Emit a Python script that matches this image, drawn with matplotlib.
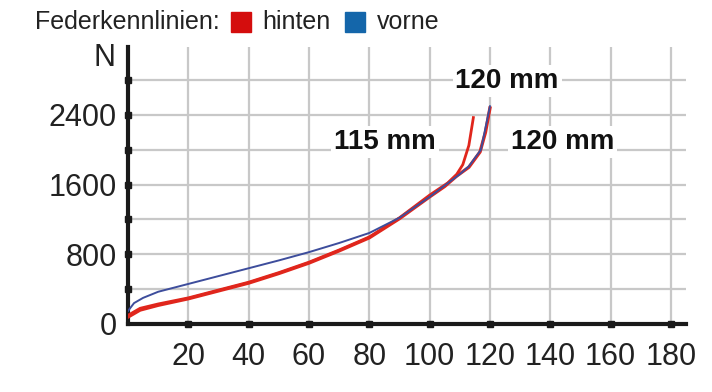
import matplotlib
matplotlib.use('Agg')
import matplotlib.pyplot as plt
from matplotlib.patches import Rectangle

plt.rcParams['font.family'] = ['Liberation Sans', 'DejaVu Sans']

# Federkennlinien (Weg in mm, Kraft in N)
x_vorne = [0, 2, 5, 10, 20, 30, 40, 50, 60, 70, 80, 90, 100, 105, 110, 113, 117, 120]
n_vorne = [150, 240, 300, 370, 460, 550, 640, 730, 825, 930, 1045, 1220, 1460, 1590, 1720, 1810, 2000, 2500]

x_hinten_115 = [0, 4, 10, 20, 30, 40, 50, 60, 70, 80, 90, 100, 103, 106, 109, 111, 113, 114.5]
n_hinten_115 = [100, 180, 230, 300, 390, 480, 590, 710, 850, 1000, 1220, 1480, 1550, 1620, 1720, 1830, 2050, 2370]

x_hinten_120 = [0, 4, 10, 20, 30, 40, 50, 60, 70, 80, 90, 100, 105, 109, 113, 116.7, 118.5, 120]
n_hinten_120 = [80, 160, 215, 290, 380, 470, 580, 700, 840, 990, 1210, 1460, 1580, 1700, 1800, 1975, 2200, 2480]

x_ticks = [20, 40, 60, 80, 100, 120, 140, 160, 180]
y_grid = [400, 800, 1200, 1600, 2000, 2400, 2800]
y_labels = [0, 800, 1600, 2400]

red = '#e0261c'
blue = '#3d4d9c'
axis_col = '#1a1a1a'
text_col = '#222222'

fig = plt.figure(figsize=(7.12, 3.92), dpi=100)
ax = fig.add_axes([0.1798, 0.1735, 0.7837, 0.7065])
ax.set_xlim(0, 185)
ax.set_ylim(0, 3180)

for s in ['top', 'right']:
    ax.spines[s].set_visible(False)
for s in ['left', 'bottom']:
    ax.spines[s].set_linewidth(3)
    ax.spines[s].set_color(axis_col)

ax.set_xticks(x_ticks)
ax.set_xticklabels([str(v) for v in x_ticks])
ax.set_yticks(y_labels)
ax.set_yticklabels([str(v) for v in y_labels])
ax.tick_params(length=0, labelsize=22, colors=text_col, pad=8)
ax.tick_params(axis='x', pad=13)

for xv in x_ticks:
    ax.axvline(xv, color='#c8c8c8', lw=1.6, zorder=0)
for yv in y_grid:
    ax.axhline(yv, color='#c8c8c8', lw=1.6, zorder=0)

# kleine quadratische Markierungen auf den Achsen
ax.plot(x_ticks, [0] * len(x_ticks), 's', color=axis_col, ms=5, clip_on=False, zorder=5)
ax.plot([0] * len(y_grid), y_grid, 's', color=axis_col, ms=5, clip_on=False, zorder=5)

ax.plot(x_hinten_120, n_hinten_120, color=red, lw=2.4, zorder=3)
ax.plot(x_hinten_115, n_hinten_115, color=red, lw=2.0, zorder=3)
ax.plot(x_vorne, n_vorne, color=blue, lw=1.4, zorder=4)

box = dict(facecolor='white', edgecolor='none', pad=2)
ax.text(125.7, 2790, '120 mm', fontsize=20, fontweight='bold', ha='center', va='center', color='#111111', bbox=box, zorder=6)
ax.text(85.2, 2090, '115 mm', fontsize=20, fontweight='bold', ha='center', va='center', color='#111111', bbox=box, zorder=6)
ax.text(144, 2090, '120 mm', fontsize=20, fontweight='bold', ha='center', va='center', color='#111111', bbox=box, zorder=6)

ax.text(-4, 3050, 'N', fontsize=22, ha='right', va='center', color=text_col, clip_on=False)

# Titel mit Legende
fig.text(0.049, 0.945, 'Federkennlinien:', fontsize=18, color=text_col, va='center')
fig.add_artist(Rectangle((0.324, 0.918), 0.028, 0.052, transform=fig.transFigure, color='#d40d0d'))
fig.text(0.368, 0.945, 'hinten', fontsize=18, color=text_col, va='center')
fig.add_artist(Rectangle((0.485, 0.918), 0.028, 0.052, transform=fig.transFigure, color='#1466aa'))
fig.text(0.530, 0.945, 'vorne', fontsize=18, color=text_col, va='center')

fig.savefig('out.png', dpi=100)
